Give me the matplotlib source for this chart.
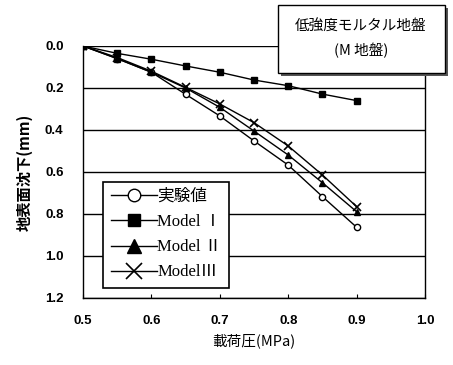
import matplotlib.pyplot as plt
from matplotlib.patches import Rectangle

# 載荷圧と地表面沈下
pressure = [0.5, 0.55, 0.6, 0.65, 0.7, 0.75, 0.8, 0.85, 0.9]
exp_val = [0.0, 0.06, 0.125, 0.23, 0.333, 0.452, 0.567, 0.717, 0.863]
model1 = [0.0, 0.035, 0.063, 0.095, 0.125, 0.162, 0.189, 0.229, 0.26]
model2 = [0.0, 0.06, 0.125, 0.2, 0.292, 0.405, 0.519, 0.651, 0.789]
model3 = [0.0, 0.055, 0.12, 0.197, 0.276, 0.365, 0.476, 0.614, 0.765]
labels = ['実験値', 'Model Ⅰ', 'Model Ⅱ', 'ModelⅢ']

jp = ['Noto Sans CJK JP', 'DejaVu Sans']

fig = plt.figure(figsize=(4.53, 3.65), dpi=100)
ax = fig.add_axes([83/453, 1-298/365, 342/453, 252/365])

ax.plot(pressure, exp_val, '-o', color='k', lw=1, ms=4.5, mfc='white', mec='k', mew=1, label=labels[0])
ax.plot(pressure, model1, '-s', color='k', lw=1, ms=4.5, label=labels[1])
ax.plot(pressure, model2, '-^', color='k', lw=1, ms=5, label=labels[2])
ax.plot(pressure, model3, '-x', color='k', lw=1, ms=6, mew=1.2, label=labels[3])

ax.set_xlim(0.5, 1.0)
ax.set_ylim(1.2, 0.0)
ax.set_xticks([0.5, 0.6, 0.7, 0.8, 0.9, 1.0])
ax.set_yticks([0.0, 0.2, 0.4, 0.6, 0.8, 1.0, 1.2])
ax.xaxis.set_major_formatter(plt.FormatStrFormatter('%.1f'))
ax.yaxis.set_major_formatter(plt.FormatStrFormatter('%.1f'))
for t in ax.get_xticklabels() + ax.get_yticklabels():
    t.set_fontfamily('Liberation Sans')
    t.set_fontweight('bold')
    t.set_fontsize(9.5)
ax.tick_params(axis='x', direction='in', length=3, pad=12)
ax.tick_params(axis='y', length=0, pad=14)
ax.yaxis.grid(True, color='k', lw=1)
ax.set_axisbelow(True)
ax.spines['top'].set_visible(False)
for s in ['left', 'right', 'bottom']:
    ax.spines[s].set_linewidth(1)

ax.set_xlabel('載荷圧(MPa)', family=jp, fontsize=10.5, labelpad=5)
ax.set_ylabel('地表面沈下(mm)', family=jp, fontsize=11, fontweight='bold', labelpad=9)

leg = ax.legend(loc='lower left', bbox_to_anchor=(20/342, 10/252), frameon=True,
                fancybox=False, edgecolor='k', framealpha=1, markerscale=2.0,
                handlelength=2.8, handletextpad=0.0, labelspacing=0.55,
                borderpad=0.45, borderaxespad=0,
                prop={'family': ['Liberation Serif', 'Noto Sans CJK JP'], 'size': 12})
leg.get_frame().set_linewidth(1.2)

# 地盤名の枠（影付き）
fig.patches.append(Rectangle((281/453, 1-76/365), 167/453, 68/365, transform=fig.transFigure,
                             facecolor='#555555', edgecolor='none', zorder=5))
fig.patches.append(Rectangle((278/453, 1-73/365), 167/453, 68/365, transform=fig.transFigure,
                             facecolor='white', edgecolor='k', lw=1, zorder=6))
fig.text(361/453, 1-27/365, '低強度モルタル地盤', family=jp, fontsize=10.5, ha='center', va='center', zorder=7)
fig.text(361/453, 1-50/365, '(M 地盤)', family=jp, fontsize=10.5, ha='center', va='center', zorder=7)

fig.savefig('out.png', dpi=100)
